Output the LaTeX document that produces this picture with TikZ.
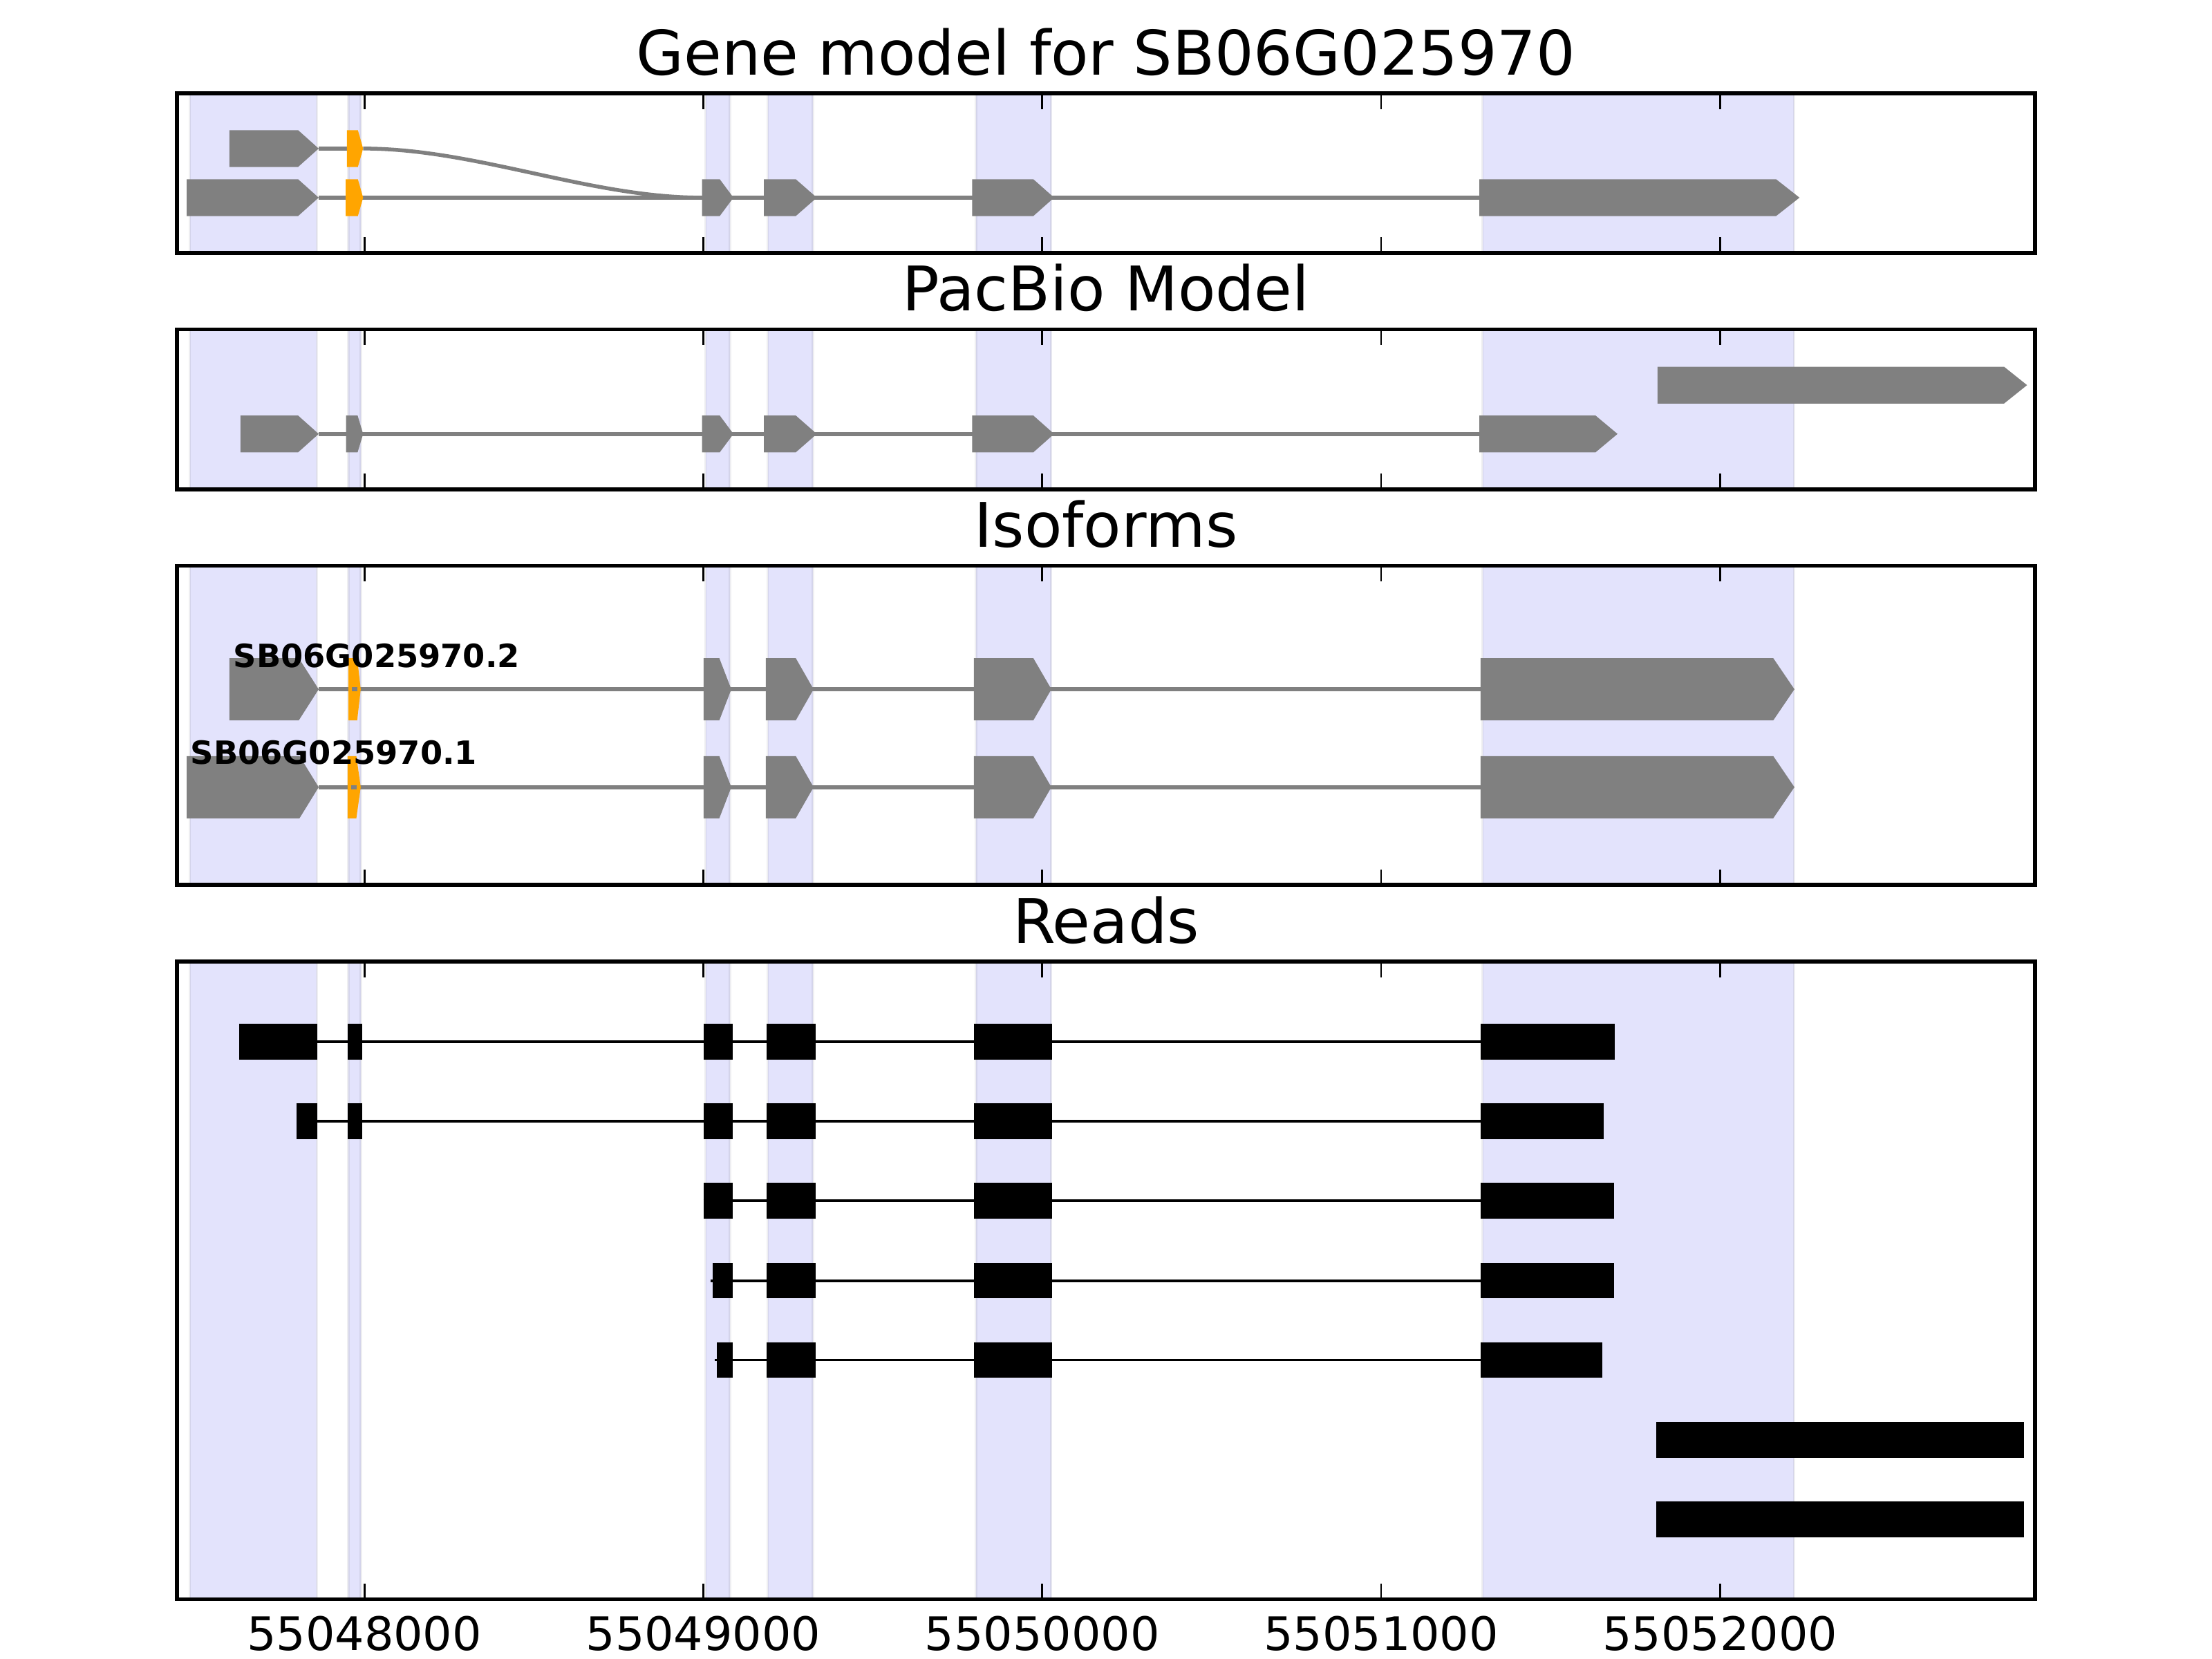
\documentclass[tikz,border=0pt]{standalone}
\usepackage{fontspec}
\setmainfont{DejaVu Sans}
\definecolor{bandfill}{RGB}{227,227,252}
\definecolor{bandedge}{RGB}{212,212,234}
\definecolor{bandhalo}{RGB}{238,238,241}
\definecolor{exgray}{RGB}{128,128,128}
\definecolor{exorange}{RGB}{255,165,0}
\tikzset{
  frame/.style={draw=black, line width=0.77pt},
  tickline/.style={draw=black, line width=0.4pt},
  intron/.style={draw=exgray, line width=0.77pt},
  readline/.style={draw=black, line width=0.53pt},
  titletext/.style={anchor=base, inner sep=0pt, font=\fontsize{12.4}{14}\selectfont},
  ticktext/.style={anchor=base, inner sep=0pt, font=\fontsize{9.3}{11}\selectfont},
  isotext/.style={anchor=base west, inner sep=0pt, font=\bfseries\fontsize{6.45}{8}\selectfont},
}
% shaded band: x0 x1 top bottom
\newcommand\shadeband[4]{%
  \fill[bandhalo] ({#1-1.3},#3) rectangle ({#2+1.3},#4);
  \fill[bandfill] (#1,#3) rectangle (#2,#4);
  \draw[bandedge, line width=0.25pt] (#1,#3) -- (#1,#4) (#2,#3) -- (#2,#4);
}
\newcommand\allbands[2]{%
  \shadeband{135.0}{224.2}{#1}{#2}
  \shadeband{247.5}{255.3}{#1}{#2}
  \shadeband{500.5}{517.0}{#1}{#2}
  \shadeband{544.6}{575.9}{#1}{#2}
  \shadeband{692.2}{744.7}{#1}{#2}
  \shadeband{1051.3}{1271.3}{#1}{#2}
}
% exon arrow: x0 x1 xtip ycenter height colour
\newcommand\gmexon[6]{%
  \fill[#6] (#1,{#4-#5/2}) -- (#2,{#4-#5/2}) -- (#3,#4) -- (#2,{#4+#5/2}) -- (#1,{#4+#5/2}) -- cycle;
}
% read block: x0 x1 ycenter
\newcommand\rdexon[3]{%
  \fill[black] (#1,{#3-12.6}) rectangle (#2,{#3+12.6});
}
\newcommand\panelticks[2]{%
  \foreach \tx in {258.3,498.55,738.8,979.05,1219.3} {
    \draw[tickline] (\tx,#1) -- (\tx,{#1+11});
    \draw[tickline] (\tx,#2) -- (\tx,{#2-11});
  }
}
\begin{document}
\begin{tikzpicture}[x=0.01cm, y=-0.01cm]
\useasboundingbox (0,0) rectangle (1568,1176);
\fill[white] (0,0) rectangle (1568,1176);

% ---------------- Panel 1: Gene model ----------------
\node[titletext] (title1) at (784,53.1) {Gene model for SB06G025970};
\allbands{66.2}{179.3}
% row A (.2)
\draw[intron] (225.9,105.3) -- (245.9,105.3);
\draw[intron] (257.4,105.3) .. controls (337.5,105.3) and (417.6,140.1) .. (497.7,140.1);
\gmexon{162.6}{211.3}{225.9}{105.3}{26.1}{exgray}
\gmexon{245.9}{253.7}{257.4}{105.3}{26.1}{exorange}
% row B (.1)
\draw[intron] (225.9,140.1) -- (1048.7,140.1);
\gmexon{132.3}{211.3}{225.9}{140.1}{26.1}{exgray}
\gmexon{245.0}{253.7}{257.4}{140.1}{26.1}{exorange}
\gmexon{497.7}{510.2}{519.9}{140.1}{26.1}{exgray}
\gmexon{541.5}{564.1}{579.0}{140.1}{26.1}{exgray}
\gmexon{689.1}{732.5}{747.2}{140.1}{26.1}{exgray}
\gmexon{1048.7}{1259.0}{1275.6}{140.1}{26.1}{exgray}
\draw[frame] (125.5,66.2) rectangle (1442.5,179.3);
\panelticks{66.2}{179.3}

% ---------------- Panel 2: PacBio ----------------
\node[titletext] (title2) at (784,220.5) {PacBio Model};
\allbands{233.6}{346.8}
\draw[intron] (225.9,307.6) -- (1048.7,307.6);
\gmexon{170.5}{211.3}{225.9}{307.6}{26.1}{exgray}
\gmexon{245.3}{253.5}{257.4}{307.6}{26.1}{exgray}
\gmexon{497.7}{510.2}{519.9}{307.6}{26.1}{exgray}
\gmexon{541.5}{564.1}{579.0}{307.6}{26.1}{exgray}
\gmexon{689.1}{732.5}{747.2}{307.6}{26.1}{exgray}
\gmexon{1048.7}{1131.0}{1146.6}{307.6}{26.1}{exgray}
\gmexon{1175.0}{1420.6}{1436.9}{273.0}{26.1}{exgray}
\draw[frame] (125.5,233.6) rectangle (1442.5,346.8);
\panelticks{233.6}{346.8}

% ---------------- Panel 3: Isoforms ----------------
\node[titletext] (title3) at (784,387.9) {Isoforms};
\allbands{401.0}{627.2}
% isoform .2
\draw[intron] (225.9,488.6) -- (1049.5,488.6);
\gmexon{162.6}{211.8}{225.9}{488.6}{44.1}{exgray}
\gmexon{247.0}{253.2}{255.7}{488.6}{44.1}{exorange}
\draw[intron] (249.3,488.6) -- (253.2,488.6);
\gmexon{498.8}{509.9}{518.4}{488.6}{44.1}{exgray}
\gmexon{542.8}{564.1}{576.7}{488.6}{44.1}{exgray}
\gmexon{690.4}{732.5}{745.3}{488.6}{44.1}{exgray}
\gmexon{1049.5}{1257.0}{1272.0}{488.6}{44.1}{exgray}
% isoform .1
\draw[intron] (225.9,558.0) -- (1049.5,558.0);
\gmexon{132.3}{212.3}{225.9}{558.0}{44.1}{exgray}
\gmexon{246.4}{252.6}{255.7}{558.0}{44.1}{exorange}
\draw[intron] (249.0,558.0) -- (252.6,558.0);
\gmexon{498.8}{509.9}{518.4}{558.0}{44.1}{exgray}
\gmexon{542.8}{564.1}{576.7}{558.0}{44.1}{exgray}
\gmexon{690.4}{732.5}{745.3}{558.0}{44.1}{exgray}
\gmexon{1049.5}{1257.0}{1272.0}{558.0}{44.1}{exgray}
\node[isotext] (iso2) at (164.8,472.9) {SB06G025970.2};
\node[isotext] (iso1) at (134.5,541.5) {SB06G025970.1};
\draw[frame] (125.5,401.0) rectangle (1442.5,627.2);
\panelticks{401.0}{627.2}

% ---------------- Panel 4: Reads ----------------
\node[titletext] (title4) at (784,668.6) {Reads};
\allbands{681.7}{1133.6}
% read 1
\draw[readline] (169.6,738.4) -- (1144.7,738.4);
\rdexon{169.6}{225.1}{738.4}
\rdexon{246.4}{256.6}{738.4}
\rdexon{498.8}{519.2}{738.4}
\rdexon{543.2}{578.1}{738.4}
\rdexon{690.6}{746.0}{738.4}
\rdexon{1049.7}{1144.7}{738.4}
% read 2
\draw[readline] (210.4,794.8) -- (1136.6,794.8);
\rdexon{210.4}{225.1}{794.8}
\rdexon{246.4}{256.6}{794.8}
\rdexon{498.8}{519.2}{794.8}
\rdexon{543.2}{578.1}{794.8}
\rdexon{690.6}{746.0}{794.8}
\rdexon{1049.7}{1136.6}{794.8}
% read 3
\draw[readline] (498.6,851.1) -- (1144.0,851.1);
\rdexon{498.6}{519.2}{851.1}
\rdexon{543.2}{578.1}{851.1}
\rdexon{690.6}{746.0}{851.1}
\rdexon{1049.7}{1144.0}{851.1}
% read 4
\draw[readline] (503.7,907.8) -- (1144.0,907.8);
\rdexon{505.4}{519.2}{907.8}
\rdexon{543.2}{578.1}{907.8}
\rdexon{690.6}{746.0}{907.8}
\rdexon{1049.7}{1144.0}{907.8}
% read 5
\draw[readline] (506.6,964.1) -- (1135.6,964.1);
\rdexon{507.9}{519.2}{964.1}
\rdexon{543.2}{578.1}{964.1}
\rdexon{690.6}{746.0}{964.1}
\rdexon{1049.7}{1135.6}{964.1}
% reads 6 and 7
\rdexon{1174.0}{1434.7}{1020.6}
\rdexon{1174.0}{1434.7}{1077.0}
\draw[frame] (125.5,681.7) rectangle (1442.5,1133.6);
\panelticks{681.7}{1133.6}

% tick labels
\node[ticktext] (xl1) at (258.3,1169.8) {55048000};
\node[ticktext] (xl2) at (498.55,1169.8) {55049000};
\node[ticktext] (xl3) at (738.8,1169.8) {55050000};
\node[ticktext] (xl4) at (979.05,1169.8) {55051000};
\node[ticktext] (xl5) at (1219.3,1169.8) {55052000};
\end{tikzpicture}
\end{document}
